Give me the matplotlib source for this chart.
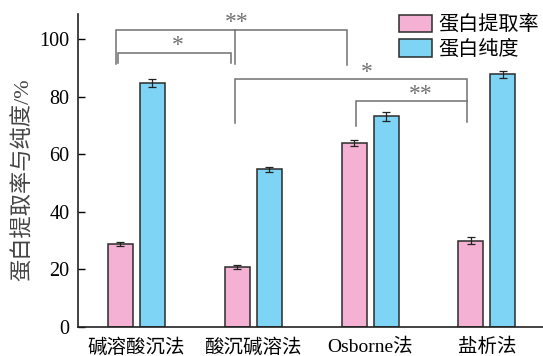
import matplotlib
matplotlib.use("Agg")
import matplotlib.pyplot as plt
import numpy as np

plt.rcParams["font.family"] = ["Liberation Serif", "Noto Sans CJK SC"]

methods = ["碱溶酸沉法", "酸沉碱溶法", "Osborne法", "盐析法"]
extraction = [28.8, 20.8, 63.9, 29.9]
extraction_err = [0.8, 0.7, 0.9, 1.2]
purity = [84.6, 54.7, 73.2, 87.8]
purity_err = [1.4, 1.0, 1.6, 1.2]

pink = "#F5B1D3"
cyan = "#7DD4F4"
edge = "#2b2b2b"
gray = "#707070"

fig = plt.figure(figsize=(5.43, 3.56), dpi=100)
ax = fig.add_axes([0.1436, 0.0815, 0.8564, 0.8792])

x = np.arange(len(methods))
w = 0.214
off = 0.137
ekw = dict(ecolor="#222222", elinewidth=0.9, capsize=3, capthick=0.9)
ax.bar(x - off, extraction, w, yerr=extraction_err, color=pink,
       edgecolor=edge, linewidth=1.1, label="蛋白提取率", error_kw=ekw)
ax.bar(x + off, purity, w, yerr=purity_err, color=cyan,
       edgecolor=edge, linewidth=1.1, label="蛋白纯度", error_kw=ekw)

ax.set_xlim(-0.5, 3.48)
ax.set_ylim(0, 108.7)
ax.set_yticks([0, 20, 40, 60, 80, 100])
ax.tick_params(axis="y", direction="in", length=5, width=1, labelsize=14.5, pad=6)
ax.tick_params(axis="x", length=0, labelsize=14, pad=8)
ax.set_xticks(x)
ax.set_xticklabels(methods)
for s in ["top", "right"]:
    ax.spines[s].set_visible(False)
for s in ["left", "bottom"]:
    ax.spines[s].set_linewidth(1.2)
    ax.spines[s].set_color("#222222")
ax.set_ylabel("蛋白提取率与纯度/%", fontsize=16, color="#444444")
ax.yaxis.set_label_coords(-0.094, 0.47)

# significance brackets
def bracket(x0, x1, y, y0, y1, lw=1.1):
    ax.plot([x0, x0, x1, x1], [y0, y, y, y1], color=gray, lw=lw,
            solid_joinstyle="miter", clip_on=False)

bracket(-0.175, 1.80, 103.1, 91.3, 91.0)
ax.plot([0.84, 0.84], [103.1, 91.3], color=gray, lw=1.1, clip_on=False)
bracket(-0.16, 0.81, 95.1, 91.7, 91.7)
bracket(0.84, 2.83, 86.1, 70.8, 71.2)
bracket(1.876, 2.83, 78.5, 69.8, 78.5)

star_kw = dict(ha="center", va="baseline", color=gray, fontsize=17, clip_on=False)
ax.text(0.86, 103.8, "**", **star_kw)
ax.text(0.355, 95.8, "*", **star_kw)
ax.text(1.97, 86.6, "*", **star_kw)
ax.text(2.43, 78.9, "**", **star_kw)

ax.legend(loc="upper right", bbox_to_anchor=(1.012, 1.03), frameon=False,
          fontsize=14.5, handlelength=1.65, handleheight=0.95, handletextpad=0.3,
          labelspacing=0.2, borderaxespad=0.1)

fig.savefig("out.png", dpi=100)
